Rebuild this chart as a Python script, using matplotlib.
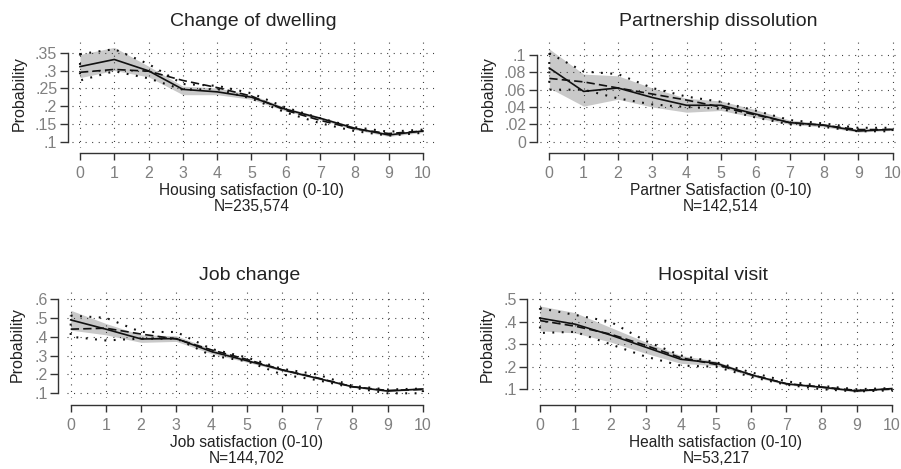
import numpy as np
import matplotlib
matplotlib.use("Agg")
import matplotlib.pyplot as plt

plt.rcParams['font.family'] = ['Liberation Sans', 'DejaVu Sans']

x = np.arange(11)

# Change of dwelling
dwell_solid = [.311, .331, .299, .247, .240, .225, .191, .166, .138, .119, .130]
dwell_lo = [.280, .300, .282, .232, .232, .219, .186, .162, .134, .115, .126]
dwell_hi = [.345, .365, .312, .256, .251, .232, .196, .170, .142, .123, .134]
dwell_dash = [.295, .303, .298, .272, .252, .228, .188, .160, .136, .123, .130]
dwell_dlo = [.272, .298, .278, .246, .248, .221, .182, .152, .130, .117, .125]
dwell_dhi = [.346, .360, .318, .262, .257, .236, .196, .166, .141, .128, .134]

# Partnership dissolution
part_solid = [.085, .058, .062, .051, .042, .042, .032, .022, .019, .0123, .0143]
part_lo = [.062, .041, .049, .040, .034, .036, .028, .020, .017, .011, .013]
part_hi = [.107, .078, .076, .062, .050, .047, .037, .025, .021, .014, .015]
part_dash = [.073, .069, .062, .055, .048, .040, .031, .022, .019, .014, .014]
part_dlo = [.060, .060, .050, .043, .040, .038, .028, .020, .017, .012, .012]
part_dhi = [.102, .081, .078, .062, .052, .046, .036, .025, .021, .016, .016]

# Job change
job_solid = [.489, .440, .388, .390, .321, .273, .224, .180, .135, .112, .123]
job_lo = [.435, .410, .370, .375, .310, .265, .218, .175, .131, .108, .119]
job_hi = [.540, .470, .410, .405, .335, .282, .230, .185, .139, .116, .127]
job_dash = [.440, .445, .414, .388, .330, .280, .225, .182, .135, .115, .120]
job_dlo = [.400, .380, .390, .390, .300, .270, .200, .170, .130, .100, .100]
job_dhi = [.512, .500, .425, .425, .335, .290, .230, .200, .140, .120, .125]

# Hospital visit
hosp_solid = [.416, .389, .341, .287, .233, .216, .164, .124, .109, .092, .103]
hosp_lo = [.360, .350, .310, .260, .215, .205, .158, .119, .105, .088, .099]
hosp_hi = [.470, .440, .375, .310, .250, .225, .170, .129, .113, .096, .107]
hosp_dash = [.405, .380, .345, .295, .240, .210, .165, .125, .110, .095, .100]
hosp_dlo = [.350, .355, .300, .245, .205, .200, .155, .120, .100, .090, .095]
hosp_dhi = [.460, .430, .400, .315, .250, .220, .175, .135, .115, .100, .105]

titles = ["Change of dwelling", "Partnership dissolution", "Job change", "Hospital visit"]
xlabels = ["Housing satisfaction (0-10)", "Partner Satisfaction (0-10)",
           "Job satisfaction (0-10)", "Health satisfaction (0-10)"]
ns = ["N=235,574", "N=142,514", "N=144,702", "N=53,217"]
yticks = [[.1, .15, .2, .25, .3, .35],
          [0, .02, .04, .06, .08, .1],
          [.1, .2, .3, .4, .5, .6],
          [.1, .2, .3, .4, .5]]

series = [
    (dwell_solid, dwell_lo, dwell_hi, dwell_dash, dwell_dlo, dwell_dhi),
    (part_solid, part_lo, part_hi, part_dash, part_dlo, part_dhi),
    (job_solid, job_lo, job_hi, job_dash, job_dlo, job_dhi),
    (hosp_solid, hosp_lo, hosp_hi, hosp_dash, hosp_dlo, hosp_dhi),
]

# layout in pixels: plot region (left, top, right, bottom), limits, spine offsets (px)
layout = [
    dict(box=(72, 39, 435, 148), xlim=(-0.233, 10.35), ylim=(.0823, .3885), off=(4.3, 5), ylab=53),
    dict(box=(540, 39, 897, 148), xlim=(-0.27, 10.13), ylim=(-.0073, .1185), off=(3.3, 5), ylab=52),
    dict(box=(67, 292, 433, 398), xlim=(-0.105, 10.29), ylim=(.075, .637), off=(8.7, 7), ylab=49.5),
    dict(box=(532, 292, 895, 398), xlim=(-0.227, 10.09), ylim=(.061, .532), off=(4.7, 7), ylab=44.5),
]

W, H = 901, 469
fig = plt.figure(figsize=(W / 100, H / 100), dpi=100)
px = 0.72  # pixels -> points at 100 dpi

for i in range(4):
    lay = layout[i]
    l, t, r, b = lay['box']
    ax = fig.add_axes([l / W, 1 - b / H, (r - l) / W, (b - t) / H])
    solid, lo, hi, dash, dlo, dhi = series[i]

    ax.fill_between(x, lo, hi, color='#c9c9c9', lw=0, zorder=1)
    px_poly = np.concatenate([x, x[::-1], x[:1]])
    py_poly = np.concatenate([dhi, dlo[::-1], dhi[:1]])
    ax.plot(px_poly, py_poly, color='#111111', lw=1.5, linestyle=(0, (0.9, 3.6)), zorder=3)
    ax.plot(x, dash, color='#111111', lw=1.2, dashes=(5.0, 2.5), zorder=4)
    ax.plot(x, solid, color='#111111', lw=1.2, zorder=5)

    ax.set_xlim(*lay['xlim'])
    ax.set_ylim(*lay['ylim'])
    ax.set_xticks(x)
    yt = yticks[i]
    ax.set_yticks(yt)
    ax.set_yticklabels([(f"{v:g}".lstrip('0') or '0') for v in yt])
    ax.grid(True, color='#333333', lw=0.8, linestyle=(0, (0.9, 5.0)), zorder=0)

    for s in ['top', 'right']:
        ax.spines[s].set_visible(False)
    ax.spines['left'].set_position(('outward', lay['off'][0] * px))
    ax.spines['bottom'].set_position(('outward', lay['off'][1] * px))
    ax.spines['left'].set_bounds(yt[0], yt[-1])
    ax.spines['bottom'].set_bounds(0, 10)
    for s in ['left', 'bottom']:
        ax.spines[s].set_color('#333333')
        ax.spines[s].set_linewidth(1.0)
    ax.tick_params(axis='both', width=1.0, color='#333333',
                   labelcolor='#808080', labelsize=11.5)
    ax.tick_params(axis='x', length=5, pad=4.5)
    ax.tick_params(axis='y', length=5.8, pad=1.8)

    ax.text(0.5, 1 + 12.5 / (b - t), titles[i], transform=ax.transAxes,
            ha='center', va='baseline', fontsize=14, color='#222222')
    ax.annotate(xlabels[i], xy=(5, 0), xycoords=('data', 'axes fraction'),
                xytext=(0, -(lay['off'][1] + 42) * px), textcoords='offset points',
                ha='center', va='baseline', fontsize=11.2, color='#222222')
    ax.annotate(ns[i], xy=(5, 0), xycoords=('data', 'axes fraction'),
                xytext=(0, -(lay['off'][1] + 58) * px), textcoords='offset points',
                ha='center', va='baseline', fontsize=11.2, color='#222222')
    ax.annotate("Probability", xy=(0, 0.5), xycoords='axes fraction',
                xytext=(-lay['ylab'] * px, 0), textcoords='offset points',
                ha='center', va='center', rotation=90, fontsize=11.5, color='#222222')

fig.savefig("out.png", dpi=100)
